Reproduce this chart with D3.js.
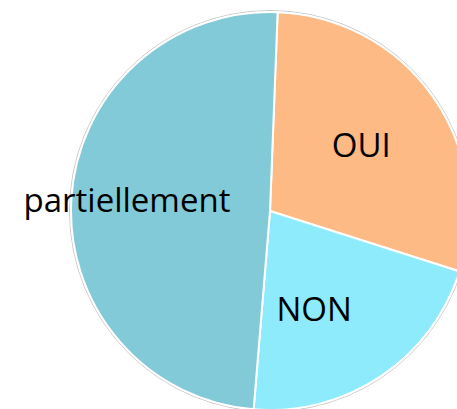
<!DOCTYPE html>
<html>
<head>
<meta charset="utf-8">
<script src="https://cdn.jsdelivr.net/npm/d3@7"></script>
<style>
  body { margin: 0; background: #fff; }
  text { font-family: "Open Sans", Lato, sans-serif; fill: #000; font-variant-ligatures: none; }
</style>
</head>
<body>
<svg id="chart" width="457" height="409"></svg>
<script>
  const width = 457, height = 409
  const cx = 270, cy = 211, radius = 199

  // share of answers (%)
  var categories = ["OUI", "NON", "partiellement"];
  var values = [29.3, 21.4, 49.3];
  var colors = ["#fdba84", "#8eebfc", "#82cad7"];

  // label placement: distance from centre (fraction of radius), angle nudge (degrees)
  var labelPos = {"OUI": [0.56, 0], "NON": [0.55, 10], "partiellement": [0.72, 0]};

  const svg = d3.select("#chart")

  var color = d3.scaleOrdinal().domain(categories).range(colors)

  var start = 2.2 * Math.PI / 180
  var pie = d3.pie().sort(null).value(d => d.value)
              .startAngle(start).endAngle(start + 2 * Math.PI)

  var data = categories.map((c, i) => ({name: c, value: values[i]}))

  var arc = d3.arc().innerRadius(0).outerRadius(radius)

  var g = svg.append("g").attr("transform", "translate(" + cx + "," + cy + ")")

  // faint outer rim
  g.append("circle")
   .attr("r", radius + 1.5)
   .attr("fill", "none")
   .attr("stroke", "#c8c8c8")
   .attr("stroke-width", 1)

  g.selectAll("path")
   .data(pie(data)).enter()
   .append("path")
   .attr("d", arc)
   .attr("fill", d => color(d.data.name))
   .attr("stroke", "#fff")
   .attr("stroke-width", 2)
   .attr("stroke-linejoin", "round")

  g.selectAll("text")
   .data(pie(data)).enter()
   .append("text")
   .attr("transform", d => {
      var p = labelPos[d.data.name]
      var r = radius * p[0]
      var a = (d.startAngle + d.endAngle) / 2 + p[1] * Math.PI / 180
      return "translate(" + (Math.sin(a) * r) + "," + (-Math.cos(a) * r) + ")"
   })
   .attr("text-anchor", "middle")
   .attr("dy", "0.3em")
   .style("font-size", "33px")
   .text(d => d.data.name)
</script>
</body>
</html>
